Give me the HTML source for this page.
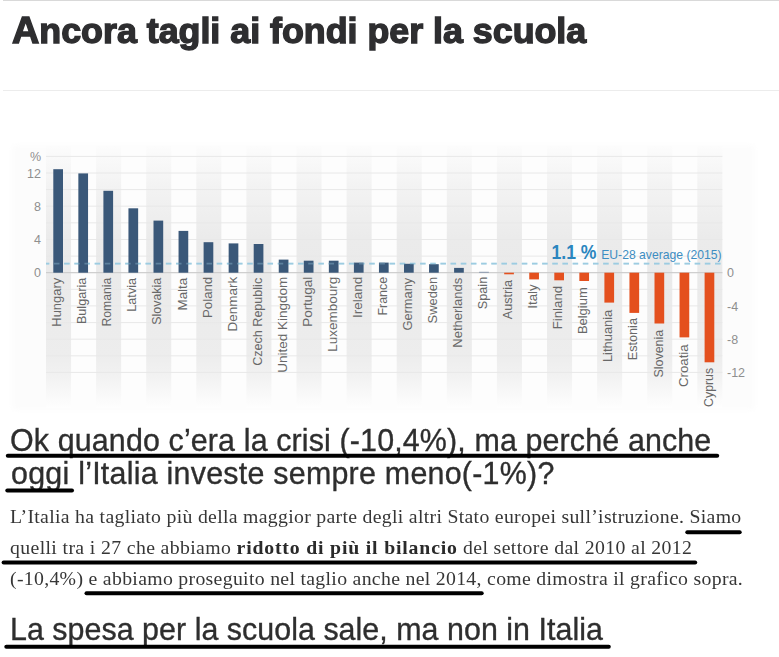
<!DOCTYPE html>
<html><head><meta charset="utf-8">
<style>
html,body{margin:0;padding:0;background:#fff;}
body{width:779px;height:657px;position:relative;overflow:hidden;}
.hr{position:absolute;left:3px;right:0;height:1px;margin:0;border:0;}
figure{margin:0;}
h1,h2,p{font-weight:normal;margin:0;}
.t{position:absolute;white-space:nowrap;margin:0;}
#title{left:11.7px;top:0;margin:0;font:bold 35px/1 "Liberation Sans",sans-serif;color:#2e2e30;-webkit-text-stroke:1.4px #2e2e30;transform-origin:0 0;transform:scaleX(1.0225);}
.h2{transform-origin:0 0;transform:scaleX(0.95);font-family:"Liberation Sans",sans-serif;font-size:32px;line-height:1;color:#2e2e2e;-webkit-text-stroke:0.35px #2e2e2e;}
.p{transform-origin:0 0;transform:scaleX(1.04);font-family:"Liberation Serif",serif;font-size:19px;line-height:1;color:#363636;}
.p b{color:#2a2a2a;letter-spacing:0.79px;}
svg{position:absolute;left:0;top:0;}
.cl{font:13px "Liberation Sans",sans-serif;fill:#686868;}
.ax{font:12.5px "Liberation Sans",sans-serif;fill:#8f8f8f;}
.avg1{font:bold 19.5px "Liberation Sans",sans-serif;fill:#2b86bf;}
.avg2{font:13px "Liberation Sans",sans-serif;fill:#3d8dc2;}
</style></head><body>
<hr class="hr" style="top:0;background:#d9d9d9">
<hr class="hr" style="top:90px;background:#ececec">
<figure class="chart"><svg width="779" height="657" viewBox="0 0 779 657" role="img" aria-label="Spesa pubblica per istruzione: variazione % per paese UE">
<defs><linearGradient id="gc" x1="0" y1="0" x2="0" y2="1"><stop offset="0" stop-color="#fcfcfc"/><stop offset="0.15" stop-color="#f3f3f3"/><stop offset="0.35" stop-color="#ebebeb"/><stop offset="0.5" stop-color="#eaeaea"/><stop offset="0.8" stop-color="#ededed"/><stop offset="0.87" stop-color="#f1f1f1"/><stop offset="0.95" stop-color="#f9f9f9"/><stop offset="1" stop-color="#fefefe"/></linearGradient><filter id="bl" x="-5%" y="-5%" width="110%" height="110%"><feGaussianBlur stdDeviation="3"/></filter></defs>
<rect x="12" y="145" width="743" height="265" fill="#fcfcfc" filter="url(#bl)"/>
<rect x="46.0" y="146" width="676.4" height="262" fill="#fdfdfd"/>
<rect x="46.00" y="146" width="25.05" height="262" fill="url(#gc)"/>
<rect x="96.10" y="146" width="25.05" height="262" fill="url(#gc)"/>
<rect x="146.20" y="146" width="25.05" height="262" fill="url(#gc)"/>
<rect x="196.30" y="146" width="25.05" height="262" fill="url(#gc)"/>
<rect x="246.40" y="146" width="25.05" height="262" fill="url(#gc)"/>
<rect x="296.50" y="146" width="25.05" height="262" fill="url(#gc)"/>
<rect x="346.60" y="146" width="25.05" height="262" fill="url(#gc)"/>
<rect x="396.70" y="146" width="25.05" height="262" fill="url(#gc)"/>
<rect x="446.80" y="146" width="25.05" height="262" fill="url(#gc)"/>
<rect x="496.90" y="146" width="25.05" height="262" fill="url(#gc)"/>
<rect x="547.00" y="146" width="25.05" height="262" fill="url(#gc)"/>
<rect x="597.10" y="146" width="25.05" height="262" fill="url(#gc)"/>
<rect x="647.20" y="146" width="25.05" height="262" fill="url(#gc)"/>
<rect x="697.30" y="146" width="25.05" height="262" fill="url(#gc)"/>
<line x1="46.0" x2="722.4" y1="372.4" y2="372.4" stroke="#e8e8e8" stroke-width="1"/>
<line x1="46.0" x2="722.4" y1="355.8" y2="355.8" stroke="#e8e8e8" stroke-width="1"/>
<line x1="46.0" x2="722.4" y1="339.2" y2="339.2" stroke="#e8e8e8" stroke-width="1"/>
<line x1="46.0" x2="722.4" y1="322.6" y2="322.6" stroke="#e8e8e8" stroke-width="1"/>
<line x1="46.0" x2="722.4" y1="305.9" y2="305.9" stroke="#e8e8e8" stroke-width="1"/>
<line x1="46.0" x2="722.4" y1="289.3" y2="289.3" stroke="#e8e8e8" stroke-width="1"/>
<line x1="46.0" x2="722.4" y1="272.7" y2="272.7" stroke="#e8e8e8" stroke-width="1"/>
<line x1="46.0" x2="722.4" y1="256.1" y2="256.1" stroke="#e8e8e8" stroke-width="1"/>
<line x1="46.0" x2="722.4" y1="239.5" y2="239.5" stroke="#e8e8e8" stroke-width="1"/>
<line x1="46.0" x2="722.4" y1="222.8" y2="222.8" stroke="#e8e8e8" stroke-width="1"/>
<line x1="46.0" x2="722.4" y1="206.2" y2="206.2" stroke="#e8e8e8" stroke-width="1"/>
<line x1="46.0" x2="722.4" y1="189.6" y2="189.6" stroke="#e8e8e8" stroke-width="1"/>
<line x1="46.0" x2="722.4" y1="173.0" y2="173.0" stroke="#e8e8e8" stroke-width="1"/>
<line x1="46.0" x2="722.4" y1="156.4" y2="156.4" stroke="#e8e8e8" stroke-width="1"/>
<line x1="46.0" x2="722.4" y1="272.7" y2="272.7" stroke="#c8c8c8" stroke-width="1"/>
<line x1="46" x2="721" y1="263.7" y2="263.7" stroke="#9ccce1" stroke-width="1.8" stroke-dasharray="5.5 4.67" stroke-dashoffset="2.2"/>
<rect x="53.30" y="169.2" width="9.7" height="103.5" fill="#3a5879"/>
<rect x="78.35" y="173.4" width="9.7" height="99.3" fill="#3a5879"/>
<rect x="103.40" y="190.8" width="9.7" height="81.9" fill="#3a5879"/>
<rect x="128.45" y="208.3" width="9.7" height="64.4" fill="#3a5879"/>
<rect x="153.50" y="220.6" width="9.7" height="52.1" fill="#3a5879"/>
<rect x="178.55" y="230.9" width="9.7" height="41.8" fill="#3a5879"/>
<rect x="203.60" y="242.2" width="9.7" height="30.5" fill="#3a5879"/>
<rect x="228.65" y="243.4" width="9.7" height="29.3" fill="#3a5879"/>
<rect x="253.70" y="244.0" width="9.7" height="28.7" fill="#3a5879"/>
<rect x="278.75" y="259.6" width="9.7" height="13.1" fill="#3a5879"/>
<rect x="303.80" y="260.7" width="9.7" height="12.0" fill="#3a5879"/>
<rect x="328.85" y="260.7" width="9.7" height="12.0" fill="#3a5879"/>
<rect x="353.90" y="262.6" width="9.7" height="10.1" fill="#3a5879"/>
<rect x="378.95" y="262.6" width="9.7" height="10.1" fill="#3a5879"/>
<rect x="404.00" y="263.8" width="9.7" height="8.9" fill="#3a5879"/>
<rect x="429.05" y="264.2" width="9.7" height="8.5" fill="#3a5879"/>
<rect x="454.10" y="267.9" width="9.7" height="4.8" fill="#3a5879"/>
<rect x="479.15" y="271.8" width="9.7" height="0.9" fill="#8090a8"/>
<rect x="504.20" y="272.7" width="9.7" height="1.6" fill="#e4501e"/>
<rect x="529.25" y="272.7" width="9.7" height="6.7" fill="#e4501e"/>
<rect x="554.30" y="272.7" width="9.7" height="7.6" fill="#e4501e"/>
<rect x="579.35" y="272.7" width="9.7" height="8.3" fill="#e4501e"/>
<rect x="604.40" y="272.7" width="9.7" height="29.9" fill="#e4501e"/>
<rect x="629.45" y="272.7" width="9.7" height="40.2" fill="#e4501e"/>
<rect x="654.50" y="272.7" width="9.7" height="50.8" fill="#e4501e"/>
<rect x="679.55" y="272.7" width="9.7" height="64.7" fill="#e4501e"/>
<rect x="704.60" y="272.7" width="9.7" height="89.6" fill="#e4501e"/>
<line x1="46" x2="721" y1="263.7" y2="263.7" stroke="#9ccce1" stroke-width="1.8" stroke-dasharray="5.5 4.67" stroke-dashoffset="2.2" opacity="0.35"/>
<text transform="translate(61.2,277.8) rotate(-90)" text-anchor="end" class="cl" textLength="48.9" lengthAdjust="spacingAndGlyphs">Hungary</text>
<text transform="translate(86.3,277.8) rotate(-90)" text-anchor="end" class="cl" textLength="46.3" lengthAdjust="spacingAndGlyphs">Bulgaria</text>
<text transform="translate(111.3,277.8) rotate(-90)" text-anchor="end" class="cl" textLength="48.8" lengthAdjust="spacingAndGlyphs">Romania</text>
<text transform="translate(136.4,277.8) rotate(-90)" text-anchor="end" class="cl" textLength="34.0" lengthAdjust="spacingAndGlyphs">Latvia</text>
<text transform="translate(161.4,277.8) rotate(-90)" text-anchor="end" class="cl" textLength="47.0" lengthAdjust="spacingAndGlyphs">Slovakia</text>
<text transform="translate(186.5,277.8) rotate(-90)" text-anchor="end" class="cl" textLength="32.7" lengthAdjust="spacingAndGlyphs">Malta</text>
<text transform="translate(211.6,276.8) rotate(-90)" text-anchor="end" class="cl" textLength="41.2" lengthAdjust="spacingAndGlyphs">Poland</text>
<text transform="translate(236.6,276.8) rotate(-90)" text-anchor="end" class="cl" textLength="54.7" lengthAdjust="spacingAndGlyphs">Denmark</text>
<text transform="translate(261.7,277.8) rotate(-90)" text-anchor="end" class="cl" textLength="88.0" lengthAdjust="spacingAndGlyphs">Czech Republic</text>
<text transform="translate(286.7,276.8) rotate(-90)" text-anchor="end" class="cl" textLength="95.9" lengthAdjust="spacingAndGlyphs">United Kingdom</text>
<text transform="translate(311.8,276.8) rotate(-90)" text-anchor="end" class="cl" textLength="50.0" lengthAdjust="spacingAndGlyphs">Portugal</text>
<text transform="translate(336.8,276.8) rotate(-90)" text-anchor="end" class="cl" textLength="75.0" lengthAdjust="spacingAndGlyphs">Luxembourg</text>
<text transform="translate(361.9,276.8) rotate(-90)" text-anchor="end" class="cl" textLength="41.3" lengthAdjust="spacingAndGlyphs">Ireland</text>
<text transform="translate(386.9,276.8) rotate(-90)" text-anchor="end" class="cl" textLength="38.8" lengthAdjust="spacingAndGlyphs">France</text>
<text transform="translate(412.0,277.8) rotate(-90)" text-anchor="end" class="cl" textLength="52.7" lengthAdjust="spacingAndGlyphs">Germany</text>
<text transform="translate(437.0,276.8) rotate(-90)" text-anchor="end" class="cl" textLength="46.6" lengthAdjust="spacingAndGlyphs">Sweden</text>
<text transform="translate(462.1,277.8) rotate(-90)" text-anchor="end" class="cl" textLength="69.9" lengthAdjust="spacingAndGlyphs">Netherlands</text>
<text transform="translate(487.1,276.8) rotate(-90)" text-anchor="end" class="cl" textLength="32.4" lengthAdjust="spacingAndGlyphs">Spain</text>
<text transform="translate(512.2,280.0) rotate(-90)" text-anchor="end" class="cl" textLength="39.2" lengthAdjust="spacingAndGlyphs">Austria</text>
<text transform="translate(537.2,284.3) rotate(-90)" text-anchor="end" class="cl" textLength="24.4" lengthAdjust="spacingAndGlyphs">Italy</text>
<text transform="translate(562.2,285.8) rotate(-90)" text-anchor="end" class="cl" textLength="43.5" lengthAdjust="spacingAndGlyphs">Finland</text>
<text transform="translate(587.3,287.3) rotate(-90)" text-anchor="end" class="cl" textLength="46.8" lengthAdjust="spacingAndGlyphs">Belgium</text>
<text transform="translate(612.4,309.7) rotate(-90)" text-anchor="end" class="cl" textLength="52.4" lengthAdjust="spacingAndGlyphs">Lithuania</text>
<text transform="translate(637.4,318.0) rotate(-90)" text-anchor="end" class="cl" textLength="42.3" lengthAdjust="spacingAndGlyphs">Estonia</text>
<text transform="translate(662.5,329.8) rotate(-90)" text-anchor="end" class="cl" textLength="47.7" lengthAdjust="spacingAndGlyphs">Slovenia</text>
<text transform="translate(687.5,344.3) rotate(-90)" text-anchor="end" class="cl" textLength="42.8" lengthAdjust="spacingAndGlyphs">Croatia</text>
<text transform="translate(712.6,367.9) rotate(-90)" text-anchor="end" class="cl" textLength="39.0" lengthAdjust="spacingAndGlyphs">Cyprus</text>
<text x="41" y="161.0" text-anchor="end" class="ax">%</text>
<text x="41" y="177.6" text-anchor="end" class="ax">12</text>
<text x="41" y="210.8" text-anchor="end" class="ax">8</text>
<text x="41" y="244.1" text-anchor="end" class="ax">4</text>
<text x="41" y="277.3" text-anchor="end" class="ax">0</text>
<text x="727" y="277.3" class="ax">0</text>
<text x="727" y="310.5" class="ax">-4</text>
<text x="727" y="343.8" class="ax">-8</text>
<text x="727" y="377.0" class="ax">-12</text>
<text x="551.5" y="259.2" class="avg1" textLength="45" lengthAdjust="spacingAndGlyphs">1.1 %</text>
<text x="601.2" y="259.2" class="avg2" textLength="120.5" lengthAdjust="spacingAndGlyphs">EU-28 average (2015)</text>
</svg></figure>
<h1 class="t" id="title" style="top:13px"><span style="font-size:37px;line-height:0">A</span>ncora tagli ai fondi per la scuola</h1>
<h2 class="t h2" id="h1a" style="left:10.3px;top:424px;letter-spacing:0.146px">Ok quando c’era la crisi (-10,4%), ma perché anche</h2>
<h2 class="t h2" id="h1b" style="left:11px;top:457px;letter-spacing:0.26px">oggi l’Italia investe sempre meno(-1%)?</h2>
<p class="t p" id="p1" style="left:9.8px;top:507px;letter-spacing:0.292px">L’Italia ha tagliato più della maggior parte degli altri Stato europei sull’istruzione. Siamo</p>
<p class="t p" id="p2" style="left:10.3px;top:538px;letter-spacing:0.355px">quelli tra i 27 che abbiamo <b>ridotto di più il bilancio</b> del settore dal 2010 al 2012</p>
<p class="t p" id="p3" style="left:10.3px;top:569px;letter-spacing:0.3px">(-10,4%) e abbiamo proseguito nel taglio anche nel 2014, come dimostra il grafico sopra.</p>
<h2 class="t h2" id="h2" style="left:10px;top:613px;letter-spacing:0.034px">La spesa per la scuola sale, ma non in Italia</h2>
<svg class="marks" width="779" height="657" viewBox="0 0 779 657" aria-hidden="true">
<line x1="7.8" y1="455.7" x2="717.2" y2="455.7" stroke="#000" stroke-width="4" stroke-linecap="round"/>
<line x1="7.3" y1="490.5" x2="72.0" y2="490.5" stroke="#000" stroke-width="4" stroke-linecap="round"/>
<line x1="687.3" y1="532.2" x2="739.7" y2="532.2" stroke="#000" stroke-width="4" stroke-linecap="round"/>
<line x1="3.6" y1="562.6" x2="695.2" y2="562.6" stroke="#000" stroke-width="4" stroke-linecap="round"/>
<line x1="86.5" y1="593.3" x2="481.7" y2="593.3" stroke="#000" stroke-width="4" stroke-linecap="round"/>
<line x1="6.3" y1="646.8" x2="608.8" y2="646.8" stroke="#000" stroke-width="4" stroke-linecap="round"/>
</svg>
</body></html>
